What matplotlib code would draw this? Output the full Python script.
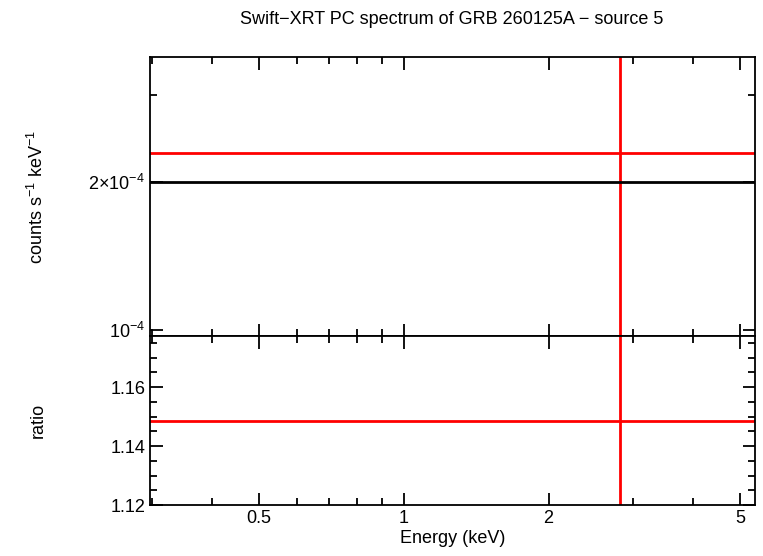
import matplotlib
matplotlib.use("Agg")
import matplotlib.pyplot as plt
from matplotlib.ticker import FixedLocator, FixedFormatter, NullFormatter, MultipleLocator

plt.rcParams.update({"font.family": ["Liberation Sans", "DejaVu Sans"], "font.size": 13,
                     "mathtext.fontset": "custom", "mathtext.rm": "Liberation Sans"})

# data: one binned point spanning the band, model level and ratio
energy = [2.82]
e_lo = [0.2]
e_hi = [6.0]
rate = [2.29e-4]
rate_err = [1.0]
model = [2.0e-4]
ratio = [1.1485]
ratio_err = [1.0]

fig = plt.figure(figsize=(7.63, 5.56), dpi=100)
ax1 = fig.add_axes([150/763, 1-336/556, 605/763, 279/556])
ax2 = fig.add_axes([150/763, 1-505/556, 605/763, 169/556], sharex=ax1)

xerr = [[energy[0]-e_lo[0]], [e_hi[0]-energy[0]]]
ax1.errorbar(energy, rate, xerr=xerr, yerr=[[rate[0]-1e-6], [rate_err[0]]], fmt="none",
             ecolor="red", elinewidth=2)
ax1.plot([0.2, 6.0], model*2, color="black", lw=2)
ax2.errorbar(energy, ratio, xerr=xerr, yerr=ratio_err, fmt="none", ecolor="red", elinewidth=2)

ax1.set_xscale("log"); ax1.set_yscale("log")
ax1.set_xlim(0.297, 5.37)
ax1.set_ylim(9.73e-5, 3.59e-4)
ax1.yaxis.set_major_locator(FixedLocator([1e-4, 2e-4]))
ax1.yaxis.set_major_formatter(FixedFormatter(["$10^{-4}$", "$2{\\times}10^{-4}$"]))
ax1.yaxis.set_minor_locator(FixedLocator([3e-4]))
ax1.yaxis.set_minor_formatter(NullFormatter())
ax2.set_ylim(1.12, 1.1773)
ax2.yaxis.set_major_locator(MultipleLocator(0.02))
ax2.yaxis.set_minor_locator(MultipleLocator(0.005))
ax2.xaxis.set_major_locator(FixedLocator([0.5, 1, 2, 5]))
ax2.xaxis.set_major_formatter(FixedFormatter(["0.5", "1", "2", "5"]))
ax2.xaxis.set_minor_locator(FixedLocator([0.3, 0.4, 0.6, 0.7, 0.8, 0.9, 3, 4]))
ax2.xaxis.set_minor_formatter(NullFormatter())
plt.setp(ax1.get_xticklabels(), visible=False)

for ax in (ax1, ax2):
    ax.tick_params(which="both", direction="in", top=True, right=True, width=1.3)
    ax.tick_params(which="major", length=9)
    ax.tick_params(which="minor", length=5)
    for s in ax.spines.values():
        s.set_linewidth(1.3)

ax1.set_ylabel("counts s$^{-1}$ keV$^{-1}$")
ax2.set_ylabel("ratio")
ax2.set_xlabel("Energy (keV)", labelpad=2)
ax1.yaxis.set_label_coords(-0.17, 0.5)
ax2.yaxis.set_label_coords(-0.17, 0.5)
fig.text(452/763, 1-20/556, "Swift\u2212XRT PC spectrum of GRB 260125A \u2212 source 5",
         ha="center", va="center", fontsize=13)
fig.savefig("out.png", dpi=100)
